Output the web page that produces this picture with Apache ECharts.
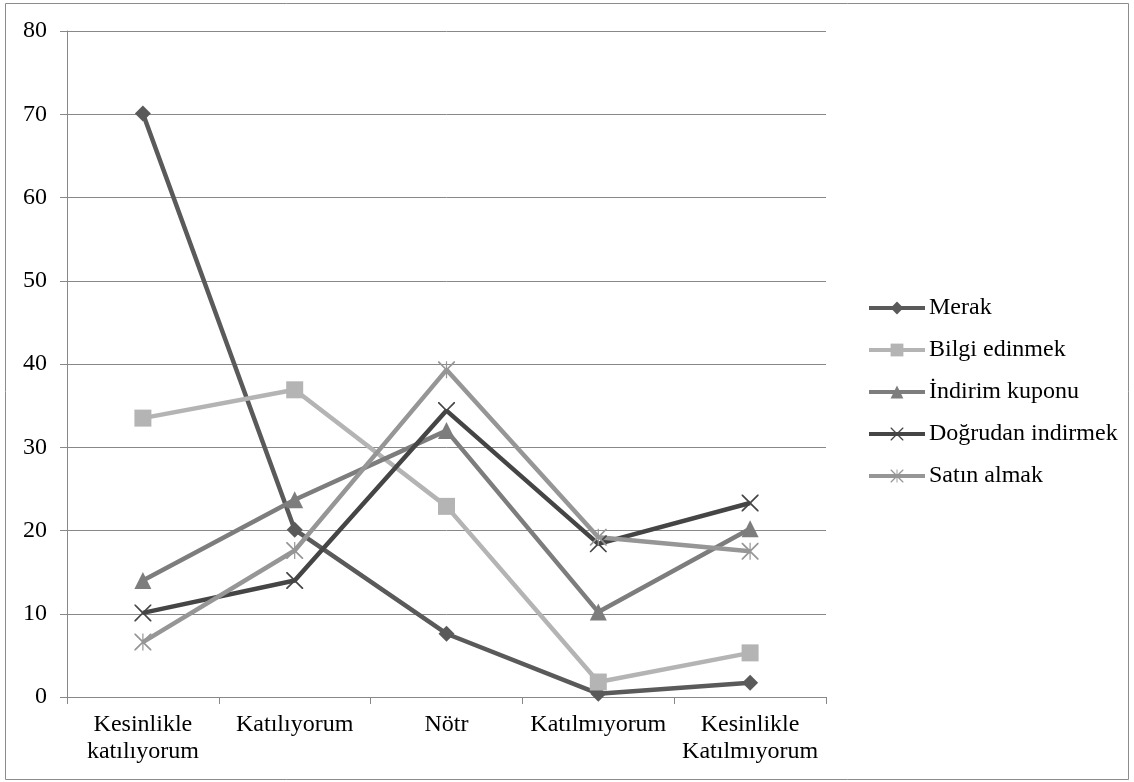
<!DOCTYPE html>
<html>
<head>
<meta charset="utf-8">
<script src="https://cdn.jsdelivr.net/npm/echarts@6/dist/echarts.min.js"></script>
<style>
  html, body { margin: 0; padding: 0; background: #fff; }
  #chart { width: 1134px; height: 782px; }
</style>
</head>
<body>
<div id="chart"></div>
<script>
// Response categories (x axis)
const categories = ['Kesinlikle\nkatılıyorum', 'Katılıyorum', 'Nötr', 'Katılmıyorum', 'Kesinlikle\nKatılmıyorum'];

// Percentages per motive
const merak = [70.1, 20.1, 7.6, 0.4, 1.7];
const bilgiEdinmek = [33.5, 36.9, 22.9, 1.8, 5.3];
const indirimKuponu = [14.0, 23.7, 32.0, 10.2, 20.2];
const dogrudanIndirmek = [10.1, 14.0, 34.4, 18.4, 23.3];
const satinAlmak = [6.6, 17.6, 39.3, 19.2, 17.5];

const yTicks = { min: 0, max: 80, interval: 10 };

// Marker shapes
const crossPath = 'path://M0,0 L1.4,0 L10,8.6 L18.6,0 L20,0 L20,1.4 L11.4,10 L20,18.6 L20,20 L18.6,20 L10,11.4 L1.4,20 L0,20 L0,18.6 L8.6,10 L0,1.4 Z';
const starPath = crossPath + ' M9.3,0 L10.7,0 L10.7,20 L9.3,20 Z';

const FONT = '"Liberation Serif", "Times New Roman", serif';

function lineSeries(name, data, color, symbol, size, width) {
  return {
    name: name,
    type: 'line',
    data: data,
    symbol: symbol,
    symbolSize: size,
    showAllSymbol: true,
    lineStyle: { color: color, width: width },
    itemStyle: { color: color },
    emphasis: { disabled: true },
    animation: false
  };
}

const chart = echarts.init(document.getElementById('chart'), null, { renderer: 'canvas' });
chart.setOption({
  backgroundColor: '#fff',
  animation: false,
  grid: { left: 67, right: 308, top: 31, bottom: 85, containLabel: false },
  graphic: [{
    type: 'rect',
    shape: { x: 5.5, y: 3.5, width: 1123, height: 776 },
    style: { fill: 'none', stroke: '#8c8c8c', lineWidth: 1 },
    silent: true,
    z: -1
  }],
  legend: {
    orient: 'vertical',
    left: 867,
    top: 296,
    padding: 0,
    itemWidth: 56,
    itemHeight: 16,
    itemGap: 18,
    lineStyle: { width: 4 },
    textStyle: { fontFamily: FONT, fontSize: 24, lineHeight: 24, color: '#000', padding: [0, 0, 0, -1] },
    data: ['Merak', 'Bilgi edinmek', 'İndirim kuponu', 'Doğrudan indirmek', 'Satın almak']
  },
  xAxis: {
    type: 'category',
    data: categories,
    boundaryGap: true,
    axisLine: { show: true, lineStyle: { color: '#888', width: 1 } },
    axisTick: { show: true, length: 7, inside: false, alignWithLabel: false, lineStyle: { color: '#888' } },
    axisLabel: { interval: 0, margin: 14, color: '#000', fontFamily: FONT, fontSize: 24, lineHeight: 27 },
    splitLine: { show: false }
  },
  yAxis: {
    type: 'value',
    min: yTicks.min,
    max: yTicks.max,
    interval: yTicks.interval,
    axisLine: { show: true, lineStyle: { color: '#888', width: 1 } },
    axisTick: { show: true, length: 7, inside: false, lineStyle: { color: '#888' } },
    axisLabel: { margin: 20, color: '#000', fontFamily: FONT, fontSize: 24 },
    splitLine: { show: true, lineStyle: { color: '#888', width: 1 } }
  },
  series: [
    lineSeries('Merak', merak, '#5a5a5a', 'diamond', 16, 4.5),
    lineSeries('Bilgi edinmek', bilgiEdinmek, '#b4b4b4', 'rect', 17, 4.5),
    lineSeries('İndirim kuponu', indirimKuponu, '#7d7d7d', 'triangle', 17, 4.5),
    lineSeries('Doğrudan indirmek', dogrudanIndirmek, '#454545', crossPath, 17, 4.5),
    lineSeries('Satın almak', satinAlmak, '#969696', starPath, 17, 4.5)
  ]
});
</script>
</body>
</html>
